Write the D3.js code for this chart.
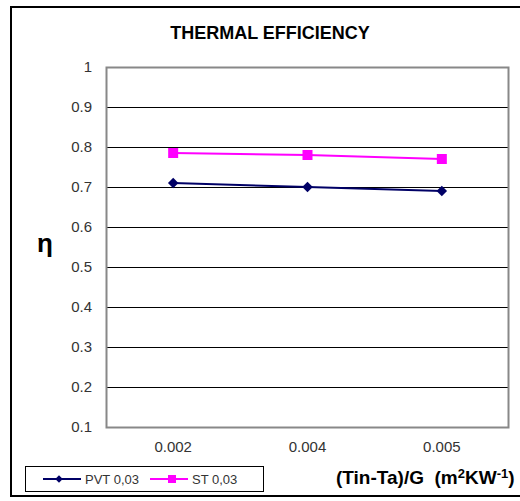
<!DOCTYPE html>
<html>
<head>
<meta charset="utf-8">
<script src="https://cdn.jsdelivr.net/npm/d3@7"></script>
<style>
  body { margin: 0; background: #fff; }
  svg text { font-family: Arial, "Liberation Sans", sans-serif; }
</style>
</head>
<body>
<div id="chart-area"></div>
<script>
// chart values
var categories = ["0.002", "0.004", "0.005"];
var pvtValues = [0.71, 0.70, 0.69];
var stValues = [0.785, 0.78, 0.77];
var yTicks = [0.1, 0.2, 0.3, 0.4, 0.5, 0.6, 0.7, 0.8, 0.9, 1];
var seriesNames = ["PVT 0,03", "ST 0,03"];

var margin = {top: 67, right: 11, bottom: 74, left: 106};
var width = 520 - margin.left - margin.right;   // 403
var height = 501 - margin.top - margin.bottom;  // 360

var svg = d3.select("#chart-area")
  .append("svg")
    .attr("width", 520)
    .attr("height", 501);

// outer chart border (right side runs off the picture)
svg.append("rect")
  .attr("x", 11).attr("y", 7)
  .attr("width", 520).attr("height", 489)
  .attr("fill", "white")
  .attr("stroke", "black")
  .attr("stroke-width", 2);

svg.append("text")
  .attr("x", 270).attr("y", 39)
  .attr("text-anchor", "middle")
  .attr("font-size", "18px")
  .attr("font-weight", "bold")
  .text("THERMAL EFFICIENCY");

var g = svg.append("g")
  .attr("transform", "translate(" + margin.left + ", " + margin.top + ")");

var x = d3.scaleBand()
  .domain(categories)
  .range([0, width]);

var y = d3.scaleLinear()
  .domain([0.1, 1])
  .range([height, 0]);

// gridlines
g.selectAll(".grid")
  .data(yTicks.filter(function(d) { return d > 0.1 && d < 1; }))
  .enter().append("line")
    .attr("class", "grid")
    .attr("x1", 0).attr("x2", width)
    .attr("y1", function(d) { return Math.round(y(d)) + 0.5; })
    .attr("y2", function(d) { return Math.round(y(d)) + 0.5; })
    .attr("stroke", "black")
    .attr("stroke-width", 1);

// plot frame
g.append("rect")
  .attr("x", 0.5).attr("y", 0.5)
  .attr("width", width - 1).attr("height", height)
  .attr("fill", "none")
  .attr("stroke", "#888")
  .attr("stroke-width", 2);

// y axis labels
var leftAxis = d3.axisLeft(y).tickValues(yTicks).tickSize(0).tickPadding(14)
  .tickFormat(function(d) { return d === 1 ? "1" : d3.format(".1f")(d); });
var yAxisGroup = g.append("g").call(leftAxis);
yAxisGroup.select(".domain").remove();
yAxisGroup.selectAll("text")
  .attr("font-size", "15px")
  .attr("fill", "#333")
  .style("font-family", "Arial, 'Liberation Sans', sans-serif");

// x axis labels
var bottomAxis = d3.axisBottom(x).tickSize(0).tickPadding(14);
var xAxisGroup = g.append("g")
  .attr("transform", "translate(0, " + height + ")")
  .call(bottomAxis);
xAxisGroup.select(".domain").remove();
xAxisGroup.selectAll("text")
  .attr("font-size", "15px")
  .attr("fill", "#333")
  .style("font-family", "Arial, 'Liberation Sans', sans-serif");

var cx = function(d, i) { return x(categories[i]) + x.bandwidth() / 2; };

var line = d3.line()
  .x(function(d, i) { return cx(d, i); })
  .y(function(d) { return y(d); });

// ST series
g.append("path")
  .datum(stValues)
  .attr("fill", "none")
  .attr("stroke", "#ff00ff")
  .attr("stroke-width", 2)
  .attr("d", line);
g.selectAll(".st")
  .data(stValues)
  .enter().append("rect")
    .attr("class", "st")
    .attr("x", function(d, i) { return cx(d, i) - 5; })
    .attr("y", function(d) { return y(d) - 5; })
    .attr("width", 10).attr("height", 10)
    .attr("fill", "#ff00ff");

// PVT series
g.append("path")
  .datum(pvtValues)
  .attr("fill", "none")
  .attr("stroke", "#000066")
  .attr("stroke-width", 2)
  .attr("d", line);
var diamond = d3.symbol().type(d3.symbolDiamond2).size(70);
g.selectAll(".pvt")
  .data(pvtValues)
  .enter().append("path")
    .attr("class", "pvt")
    .attr("d", diamond)
    .attr("transform", function(d, i) { return "translate(" + cx(d, i) + "," + y(d) + ")"; })
    .attr("fill", "#000066");

// eta label
svg.append("text")
  .attr("x", 45).attr("y", 252)
  .attr("text-anchor", "middle")
  .attr("font-size", "26px")
  .attr("font-weight", "bold")
  .text("η");

// x axis title
var xt = svg.append("text")
  .attr("x", 336).attr("y", 484)
  .attr("font-size", "19px")
  .attr("font-weight", "bold")
  .attr("xml:space", "preserve")
  .style("white-space", "pre");
xt.append("tspan").text("(Tin-Ta)/G  (m");
xt.append("tspan").attr("font-size", "13px").attr("dy", -6).text("2");
xt.append("tspan").attr("dy", 6).text("KW");
xt.append("tspan").attr("font-size", "13px").attr("dy", -6).text("-1");
xt.append("tspan").attr("dy", 6).text(")");

// legend
var legend = svg.append("g").attr("transform", "translate(25, 466)");
legend.append("rect")
  .attr("x", 0.5).attr("y", 0.5)
  .attr("width", 238).attr("height", 25)
  .attr("fill", "white")
  .attr("stroke", "black")
  .attr("stroke-width", 1);

var legColors = ["#000066", "#ff00ff"];
var legX = [18, 125];
seriesNames.forEach(function(name, i) {
  var lg = legend.append("g").attr("transform", "translate(" + legX[i] + ", 13)");
  lg.append("line")
    .attr("x1", 0).attr("x2", 38)
    .attr("y1", 0).attr("y2", 0)
    .attr("stroke", legColors[i])
    .attr("stroke-width", 2);
  if (i === 0) {
    lg.append("path")
      .attr("d", d3.symbol().type(d3.symbolDiamond2).size(36))
      .attr("transform", "translate(16,0)")
      .attr("fill", legColors[i]);
  } else {
    lg.append("rect")
      .attr("x", 18).attr("y", -4)
      .attr("width", 8).attr("height", 8)
      .attr("fill", legColors[i]);
  }
  lg.append("text")
    .attr("x", 42).attr("y", 5)
    .attr("font-size", "13px")
    .attr("fill", "#333")
    .text(name);
});
</script>
</body>
</html>
